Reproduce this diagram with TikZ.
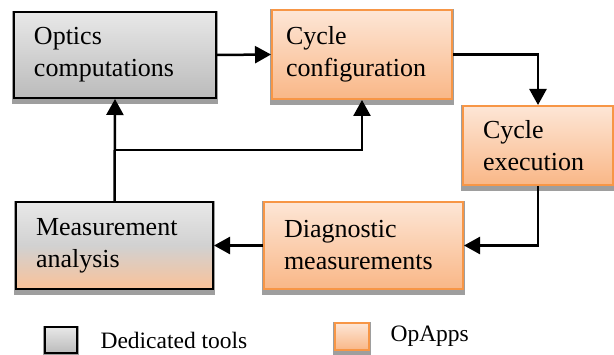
\documentclass[tikz,border=0pt]{standalone}
\usepackage{fontspec}
\setmainfont{Liberation Serif}
\usetikzlibrary{arrows.meta,backgrounds}
\definecolor{opline}{HTML}{F79646}
\definecolor{optop}{HTML}{FDE6D6}
\definecolor{opbot}{HTML}{F9B787}
\definecolor{tooltop}{HTML}{E8E8E8}
\definecolor{toolbot}{HTML}{BBBBBB}

\begin{document}
\begin{tikzpicture}[x=1pt,y=-1pt,
  box/.style={rectangle,line width=2pt,align=left,inner xsep=20pt,
    font=\fontsize{26}{32}\selectfont},
  tool/.style={box,draw=black,top color=tooltop,bottom color=toolbot},
  opapp/.style={box,draw=opline,top color=optop,bottom color=opbot},
  mixed/.style={box,draw=black,top color=tooltop,bottom color=opbot!85,middle color=black!18},
  link/.style={line width=2.5pt,-{Triangle[length=16pt,width=17pt]}},
  key/.style={font=\fontsize{23.5}{28}\selectfont,anchor=west}]
\useasboundingbox (0,0) rectangle (614,355);

% boxes
\node[tool,minimum height=86pt,text width=162pt] (optics) at (115,55)
  {Optics\\computations};
\node[opapp,minimum height=89pt,text width=152pt,inner xsep=14pt] (config) at (362,54.5)
  {Cycle\\configuration};
\node[opapp,minimum height=79pt,text width=110pt] (exec) at (538,145.5)
  {Cycle\\execution};
\node[opapp,minimum height=87pt,text width=159pt] (diag) at (363.5,245.5)
  {Diagnostic\\measurements};
\node[mixed,minimum height=87pt,text width=157pt] (meas) at (114.5,245.5)
  {Measurement\\analysis};

% legend
\node[tool,minimum width=32pt,minimum height=26pt,inner sep=0pt] (keytool) at (61,340) {};
\node[key] (keytooltext) at (97,340) {Dedicated tools};
\node[opapp,minimum width=34pt,minimum height=27pt,inner sep=0pt] (keyop) at (352,336.5) {};
\node[key] (keyoptext) at (387,336.5) {OpApps};

% shadows
\begin{scope}[on background layer]
\foreach \b in {optics,config,exec,diag,meas,keytool,keyop}
  \fill[black!38] ([xshift=-1pt,yshift=-5pt]\b.south west) rectangle ([xshift=1pt]\b.north east);
\end{scope}

% connectors
\draw[link] (optics.east) -- (config.west);
\draw[link] (config.east) -| (exec.north);
\draw[link] (exec.south) |- (diag.east);
\draw[link] (diag.west) -- (meas.east);
\draw[link] (meas.north) -- (optics.south);
\coordinate (split) at (meas.north |- 0,150);
\draw[link] (split) -| (config.south);
\end{tikzpicture}
\end{document}
